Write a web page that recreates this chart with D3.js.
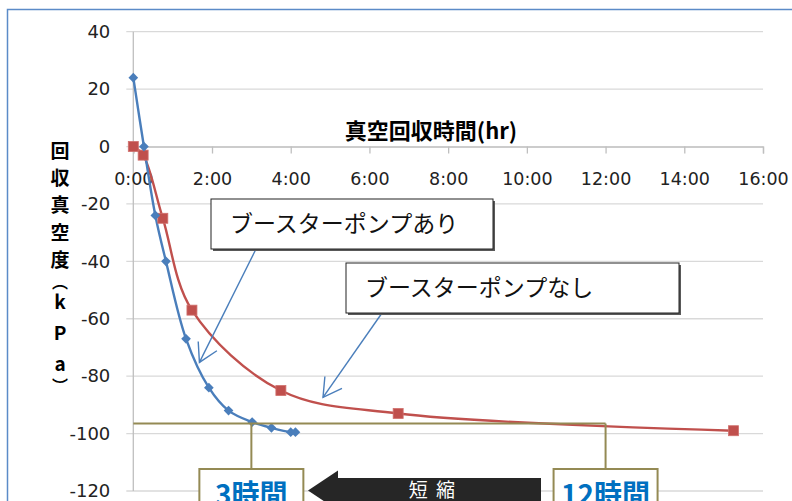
<!DOCTYPE html>
<html>
<head>
<meta charset="utf-8">
<script src="https://cdn.jsdelivr.net/npm/d3@7"></script>
<style>
  body { margin: 0; background: #fff; }
  svg { display: block; }
</style>
</head>
<body>
<div id="chart"></div>
<script>
// hours elapsed / vacuum (kPa)
const boostTime = [0, 0.27, 0.56, 0.83, 1.34, 1.92, 2.42, 3.02, 3.51, 4.0, 4.12];
const boostVac = [24, 0, -24, -40, -67, -84, -92, -96, -98, -99.5, -99.5];
const noBoostTime = [0, 0.25, 0.75, 1.49, 3.75, 6.73, 15.25];
const noBoostVac = [0, -3, -25, -57, -85, -93, -99];
const xTicks = [0, 2, 4, 6, 8, 10, 12, 14, 16];
const yTicks = [40, 20, 0, -20, -40, -60, -80, -100, -120];
const yTitle = ["回", "収", "真", "空", "度", "︵", "k", "P", "a", "︶"];
const target = -96.5;
const hoursWith = 3, hoursWithout = 12;

const W = 792, H = 501;
const blue = "#4a7ebb", red = "#c0504d", olive = "#948a54";

const svg = d3.select("#chart").append("svg")
  .attr("width", W).attr("height", H);

const x = d3.scaleLinear().domain([0, 16]).range([133.3, 763]);
const y = d3.scaleLinear().domain([-120, 40]).range([491, 31.7]);

// outer frame
svg.append("rect")
  .attr("x", 7.5).attr("y", 9.5).attr("width", 900).attr("height", 600)
  .attr("fill", "none").attr("stroke", "#5b8bc8").attr("stroke-width", 1.5);

// grid
svg.append("g").selectAll("line")
  .data(yTicks)
  .join("line")
    .attr("x1", x(0) - 7).attr("x2", x(16))
    .attr("y1", d => y(d)).attr("y2", d => y(d))
    .attr("stroke", "#d9d9d9").attr("stroke-width", 1.3);

// y axis
const yAxis = svg.append("g")
  .attr("transform", `translate(${x(0)},0)`)
  .call(d3.axisLeft(y).tickValues(yTicks).tickFormat(d => String(d)).tickSize(0).tickPadding(23));
yAxis.select(".domain").remove();
yAxis.selectAll("text")
  .attr("font-family", "DejaVu Sans").attr("font-size", 18).attr("fill", "#222");
svg.append("line")
  .attr("x1", x(0)).attr("x2", x(0)).attr("y1", y(40)).attr("y2", y(-120))
  .attr("stroke", "#bfbfbf").attr("stroke-width", 1.3);

// x axis at zero
const xAxis = svg.append("g")
  .attr("transform", `translate(0,${y(0)})`)
  .call(d3.axisBottom(x).tickValues(xTicks).tickFormat(d => d + ":00").tickSizeOuter(0).tickSize(7));
xAxis.select(".domain").attr("stroke", "#bfbfbf").attr("stroke-width", 1.3);
xAxis.selectAll(".tick line").attr("stroke", "#bfbfbf").attr("stroke-width", 1.3);
xAxis.selectAll("text")
  .attr("y", 32).attr("dy", "0.35em")
  .attr("font-family", "DejaVu Sans").attr("font-size", 17.5).attr("fill", "#222");

// axis titles
svg.append("text")
  .attr("x", 431).attr("y", 139)
  .attr("text-anchor", "middle")
  .attr("font-family", "Noto Sans CJK JP").attr("font-weight", "bold").attr("font-size", 22)
  .text("真空回収時間(hr)");

const yPos = [151, 178, 205, 233, 260, 282, 302, 333, 364, 386];
svg.append("g").selectAll("text")
  .data(yTitle)
  .join("text")
    .attr("x", 60).attr("y", (d, i) => yPos[i])
    .attr("dy", "0.36em")
    .attr("text-anchor", "middle")
    .attr("font-family", "Noto Sans CJK JP").attr("font-weight", "bold")
    .attr("font-size", d => (d == "︵" || d == "︶") ? 16 : 19)
    .text(d => d);

// series
const line = d3.line().x(d => x(d[0])).y(d => y(d[1])).curve(d3.curveCatmullRom);
const noBoost = noBoostTime.map((t, i) => [t, noBoostVac[i]]);
const boost = boostTime.map((t, i) => [t, boostVac[i]]);

svg.append("path").datum(noBoost)
  .attr("d", line).attr("fill", "none").attr("stroke", red).attr("stroke-width", 2.4);
svg.append("path").datum(boost)
  .attr("d", line).attr("fill", "none").attr("stroke", blue).attr("stroke-width", 2.4);

svg.append("g").selectAll("rect")
  .data(noBoost)
  .join("rect")
    .attr("x", d => x(d[0]) - 5).attr("y", d => y(d[1]) - 5)
    .attr("width", 10).attr("height", 10)
    .attr("fill", red).attr("stroke", "#d0706d").attr("stroke-width", 0.8);

svg.append("g").selectAll("path")
  .data(boost)
  .join("path")
    .attr("d", d3.symbol(d3.symbolDiamond2, 60))
    .attr("transform", d => `translate(${x(d[0])},${y(d[1])})`)
    .attr("fill", blue);

// target level and the two crossing times
const boxTop = 469;
svg.append("line")
  .attr("x1", x(0)).attr("x2", x(hoursWithout))
  .attr("y1", y(target)).attr("y2", y(target))
  .attr("stroke", olive).attr("stroke-width", 2);
[hoursWith, hoursWithout].forEach(h => {
  svg.append("line")
    .attr("x1", x(h)).attr("x2", x(h)).attr("y1", y(target)).attr("y2", boxTop)
    .attr("stroke", olive).attr("stroke-width", 2);
  svg.append("rect")
    .attr("x", x(h) - 52).attr("y", boxTop).attr("width", 104).attr("height", 60)
    .attr("fill", "#fff").attr("stroke", olive).attr("stroke-width", 2);
  svg.append("text")
    .attr("x", x(h)).attr("y", 505)
    .attr("text-anchor", "middle")
    .attr("font-family", "Noto Sans CJK JP").attr("font-weight", "bold").attr("font-size", 28)
    .attr("fill", "#0070c0")
    .text(h + "時間");
});

// big black arrow 短縮
const ay = 490.5;
const arrow = d3.path();
arrow.moveTo(308, ay);
arrow.lineTo(338, ay - 20);
arrow.lineTo(338, ay - 12.5);
arrow.lineTo(541, ay - 12.5);
arrow.lineTo(541, ay + 12.5);
arrow.lineTo(338, ay + 12.5);
arrow.lineTo(338, ay + 20);
arrow.closePath();
svg.append("path").attr("d", arrow.toString()).attr("fill", "#262626");
svg.append("text")
  .attr("x", 433).attr("y", ay).attr("dy", "0.36em")
  .attr("text-anchor", "middle")
  .attr("font-family", "Noto Sans CJK JP").attr("font-size", 19).attr("fill", "#fff")
  .attr("letter-spacing", 2)
  .text("短 縮");

// callouts
const callouts = [
  {label: "ブースターポンプあり", bx: 211, by: 199, bw: 282, bh: 50, from: [256, 249], to: [1.68, -75.2]},
  {label: "ブースターポンプなし", bx: 346, by: 263, bw: 333, bh: 50, from: [382, 313], to: [4.82, -87.4]}
];
callouts.forEach(c => {
  const tx = x(c.to[0]), ty = y(c.to[1]);
  svg.append("line")
    .attr("x1", c.from[0]).attr("y1", c.from[1]).attr("x2", tx).attr("y2", ty)
    .attr("stroke", blue).attr("stroke-width", 1.4);
  const ang = Math.atan2(c.from[1] - ty, c.from[0] - tx);
  const head = d3.path();
  head.moveTo(tx + 21 * Math.cos(ang - 0.52), ty + 21 * Math.sin(ang - 0.52));
  head.lineTo(tx, ty);
  head.lineTo(tx + 21 * Math.cos(ang + 0.52), ty + 21 * Math.sin(ang + 0.52));
  svg.append("path").attr("d", head.toString())
    .attr("fill", "none").attr("stroke", blue).attr("stroke-width", 1.4);

  svg.append("rect")
    .attr("x", c.bx + 2).attr("y", c.by + 2).attr("width", c.bw).attr("height", c.bh)
    .attr("fill", "#595959");
  svg.append("rect")
    .attr("x", c.bx).attr("y", c.by).attr("width", c.bw).attr("height", c.bh)
    .attr("fill", "#fff").attr("stroke", "#222").attr("stroke-width", 1);
  svg.append("text")
    .attr("x", c.bx + 19).attr("y", c.by + c.bh / 2).attr("dy", "0.36em")
    .attr("font-family", "Noto Sans CJK JP").attr("font-size", 23).attr("fill", "#111")
    .text(c.label);
});
</script>
</body>
</html>
